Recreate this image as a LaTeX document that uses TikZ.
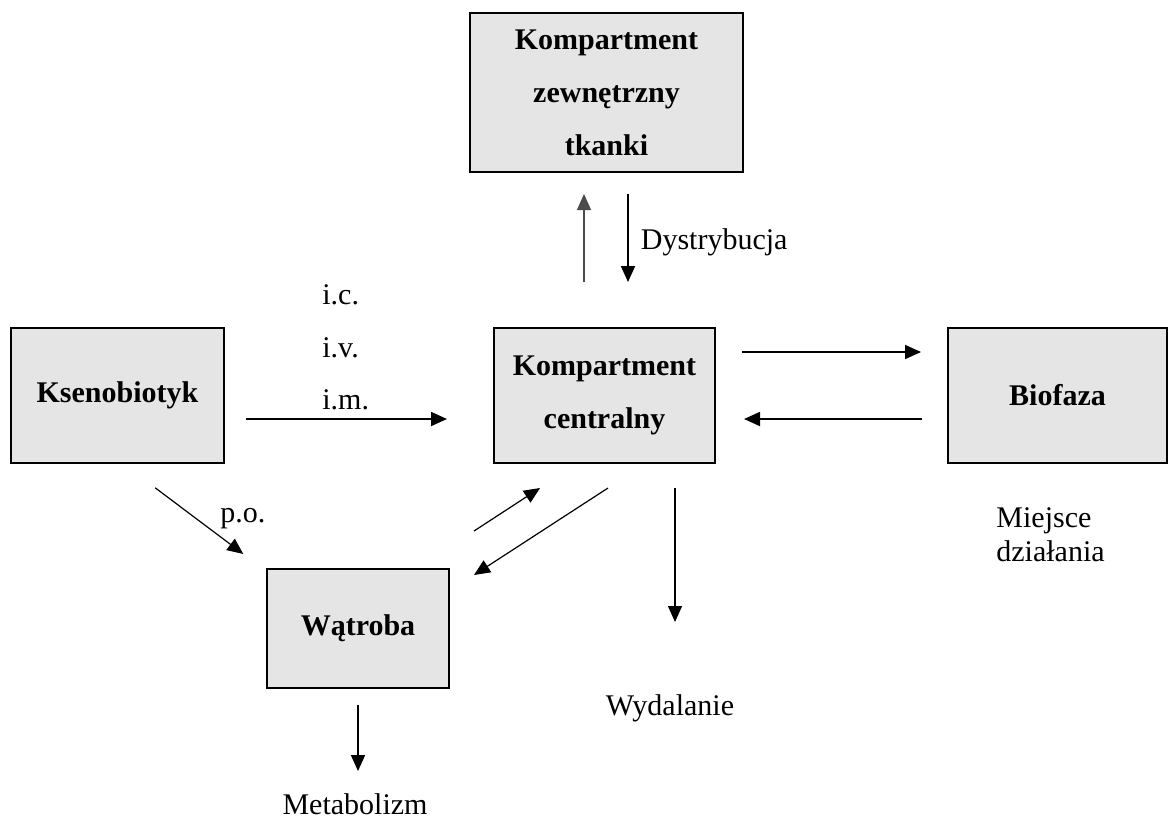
\documentclass[tikz,border=0pt]{standalone}
\usepackage{fontspec}
\setmainfont{Liberation Serif}
\usetikzlibrary{arrows.meta}
\usetikzlibrary{positioning}
\tikzset{>={Triangle[length=8pt,width=7pt]}}
\tikzset{box/.style={draw, line width=1pt, fill=black!10, align=center, inner sep=0pt, font=\bfseries\fontsize{15}{26.5}\selectfont}}
\tikzset{txt/.style={font=\fontsize{15}{17}\selectfont, inner sep=0pt}}
\tikzset{arr/.style={->, line width=0.6pt}}

\begin{document}
\begin{tikzpicture}[x=0.5pt,y=-0.5pt]
        \useasboundingbox (0,0) rectangle (1170,820);
        \node[box, minimum width=106.5pt, minimum height=67.5pt] (ksen) at (117.5,395.5) {Ksenobiotyk};
        \node[box, minimum width=110.5pt, minimum height=67.5pt] (central) at (604.5,395.5) {Kompartment\\centralny};
        \node[box, minimum width=109.5pt, minimum height=67.5pt] (biofaza) at (1057.5,395.5) {Biofaza};
        \node[box, minimum width=136.5pt, minimum height=79.5pt] (zewn) at (606.5,92.5) {Kompartment\\zewnętrzny\\tkanki};
        \node[box, minimum width=91pt, minimum height=59.5pt] (watroba) at (358,628.5) {Wątroba};

        \node[txt, anchor=west] (ic) at (322,295) {i.c.};
        \node[txt, anchor=west] (iv) at (322,348) {i.v.};
        \node[txt, anchor=west] (im) at (322,400) {i.m.};
        \node[txt, anchor=west] (po) at (220,519) {p.o.};
        \node[txt, anchor=west, align=left] (miejsce) at (996,535) {Miejsce\\działania};
        \node[txt] (wyd) at (670,708) {Wydalanie};
        \node[txt] (metab) at (355,804) {Metabolizm};
        \coordinate (wydend) at (675,622);

        \draw[arr, line width=0.9pt, shorten <=10.5pt, shorten >=23pt] ([yshift=-11.75pt]ksen.east) -- ([yshift=-11.75pt]central.west);
        \draw[arr, line width=0.9pt, shorten <=13pt, shorten >=13pt] ([yshift=21.75pt]central.east) -- ([yshift=21.75pt]biofaza.west);
        \draw[arr, line width=0.9pt, shorten <=12.5pt, shorten >=14pt] ([yshift=-11.75pt]biofaza.west) -- ([yshift=-11.75pt]central.east);
        \draw[arr, black!70, shorten <=22.5pt, shorten >=10.5pt] ([xshift=-10.25pt]central.north) -- ([xshift=-11.25pt]zewn.south);
        \draw[arr, line width=0.9pt, shorten <=10.5pt, shorten >=22.5pt] ([xshift=10.75pt]zewn.south) -- ([xshift=11.75pt]central.north)
                node[txt, pos=0.45, right=6pt] (dyst) {Dystrybucja};
        \draw[arr, shorten <=19.8pt, shorten >=11.7pt] ([xshift=3pt]ksen.south) -- ([xshift=-2pt]watroba.north west);
        \draw[arr] ([shift={(12pt,18.5pt)}]watroba.north east) -- ([shift={(-32.25pt,-12pt)}]central.south);
        \draw[arr] ([shift={(1.75pt,-12pt)}]central.south) -- ([shift={(12pt,-3.5pt)}]watroba.north east);
        \draw[arr] ([shift={(35.25pt,-12pt)}]central.south) -- (wydend);
        \draw[arr, line width=0.8pt, shorten <=7.75pt, shorten >=11pt] (watroba.south) -- (watroba.south |- metab.north);
    \end{tikzpicture}
\end{document}
